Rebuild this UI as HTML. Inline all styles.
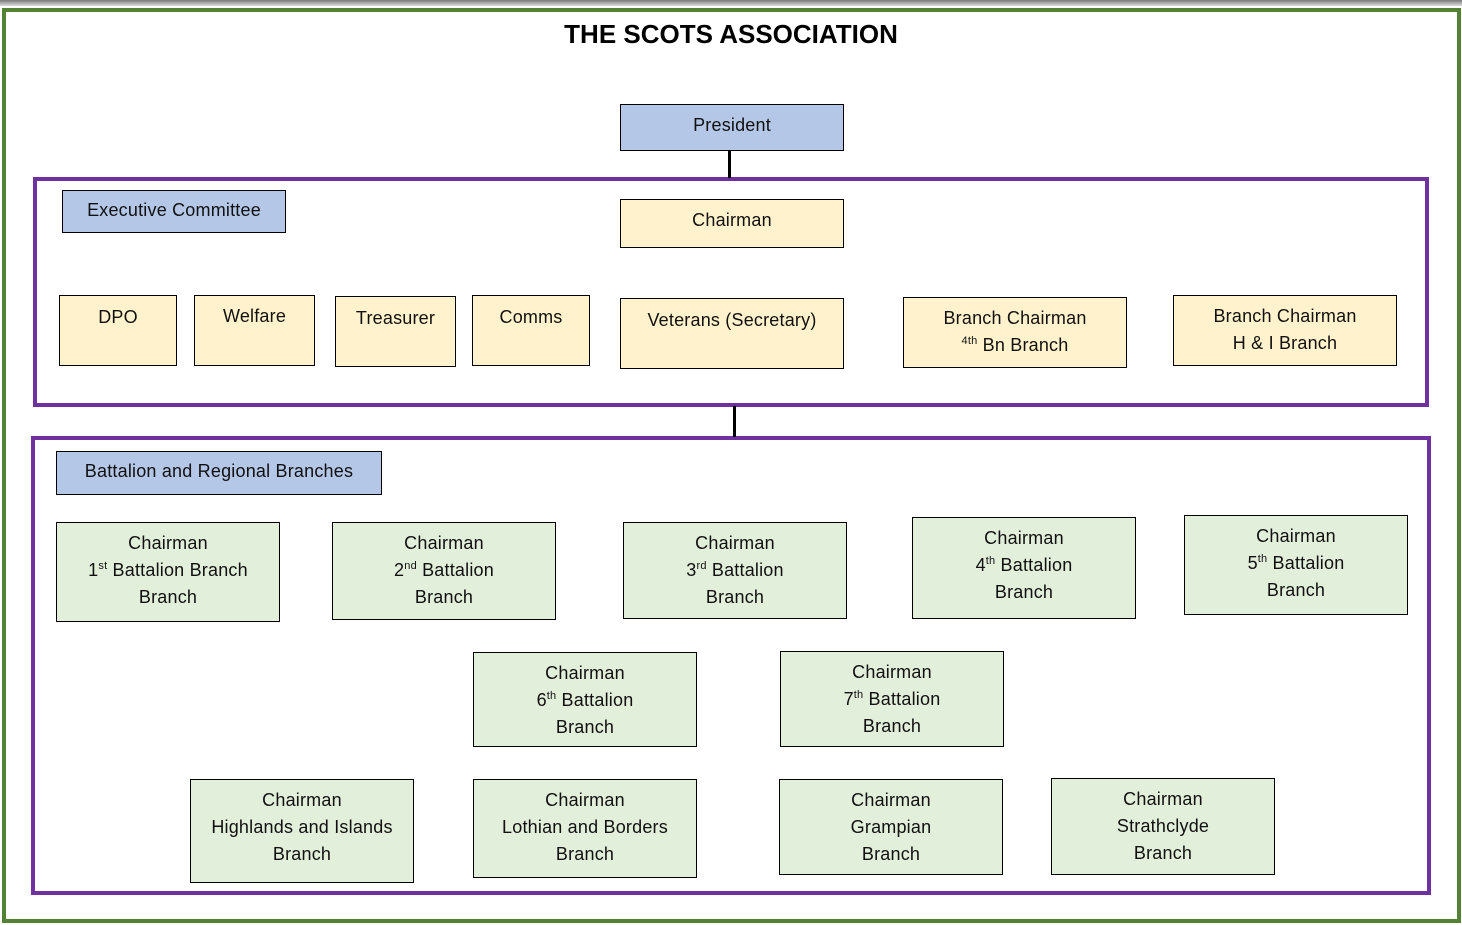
<!DOCTYPE html>
<html><head><style>
body{margin:0;width:1462px;height:925px;position:relative;background:#fff;overflow:hidden;font-family:"Liberation Sans",sans-serif;}
.b{position:absolute;box-sizing:border-box;border:1.3px solid #000;text-align:center;font-size:18px;line-height:27px;padding-top:7px;color:#111;letter-spacing:0.2px}
.y{background:#fff2cc}.g{background:#e2efda}.bl{background:#b4c7e7}
sup{font-size:11px;line-height:0;vertical-align:7px}
.p{position:absolute;box-sizing:border-box;border:4px solid #7030a0}
.l{position:absolute;background:#000;width:3px}
</style></head><body>
<div style="position:absolute;left:0;top:0;width:1462px;height:6px;background:linear-gradient(#777,#ddd)"></div>
<div style="position:absolute;left:2px;top:8px;width:1459px;height:915px;box-sizing:border-box;border:4px solid #548235"></div>
<div style="position:absolute;left:0;width:1462px;top:17px;text-align:center;font-weight:bold;font-size:26px;line-height:34px;padding-right:2px">THE SCOTS ASSOCIATION</div>
<div class="p" style="left:33px;top:177px;width:1396px;height:230px"></div>
<div class="p" style="left:31px;top:436px;width:1400px;height:459px"></div>
<div class="l" style="left:728px;top:150px;height:28px"></div>
<div class="l" style="left:733px;top:406px;height:31px"></div>

<div class="b bl" style="left:620px;top:104px;width:224px;height:47px">President</div>
<div class="b bl" style="left:62px;top:190px;width:224px;height:43px;padding-top:6px">Executive Committee</div>
<div class="b y" style="left:620px;top:199px;width:224px;height:49px">Chairman</div>
<div class="b y" style="left:59px;top:295px;width:118px;height:71px;padding-top:8px">DPO</div>
<div class="b y" style="left:194px;top:295px;width:121px;height:71px;padding-top:7px">Welfare</div>
<div class="b y" style="left:335px;top:296px;width:121px;height:71px;padding-top:8px">Treasurer</div>
<div class="b y" style="left:472px;top:295px;width:118px;height:71px;padding-top:8px">Comms</div>
<div class="b y" style="left:620px;top:298px;width:224px;height:71px;padding-top:8px">Veterans (Secretary)</div>
<div class="b y" style="left:903px;top:297px;width:224px;height:71px;padding-top:7px">Branch Chairman<br><sup>4th</sup> Bn Branch</div>
<div class="b y" style="left:1173px;top:295px;width:224px;height:71px;padding-top:7px">Branch Chairman<br>H &amp; I Branch</div>

<div class="b bl" style="left:56px;top:451px;width:326px;height:44px;padding-top:6px">Battalion and Regional Branches</div>
<div class="b g" style="left:56px;top:522px;width:224px;height:100px">Chairman<br>1<sup>st</sup> Battalion Branch<br>Branch</div>
<div class="b g" style="left:332px;top:522px;width:224px;height:98px">Chairman<br>2<sup>nd</sup> Battalion<br>Branch</div>
<div class="b g" style="left:623px;top:522px;width:224px;height:97px">Chairman<br>3<sup>rd</sup> Battalion<br>Branch</div>
<div class="b g" style="left:912px;top:517px;width:224px;height:102px">Chairman<br>4<sup>th</sup> Battalion<br>Branch</div>
<div class="b g" style="left:1184px;top:515px;width:224px;height:100px">Chairman<br>5<sup>th</sup> Battalion<br>Branch</div>
<div class="b g" style="left:473px;top:652px;width:224px;height:95px">Chairman<br>6<sup>th</sup> Battalion<br>Branch</div>
<div class="b g" style="left:780px;top:651px;width:224px;height:96px">Chairman<br>7<sup>th</sup> Battalion<br>Branch</div>
<div class="b g" style="left:190px;top:779px;width:224px;height:104px">Chairman<br>Highlands and Islands<br>Branch</div>
<div class="b g" style="left:473px;top:779px;width:224px;height:99px">Chairman<br>Lothian and Borders<br>Branch</div>
<div class="b g" style="left:779px;top:779px;width:224px;height:96px">Chairman<br>Grampian<br>Branch</div>
<div class="b g" style="left:1051px;top:778px;width:224px;height:97px">Chairman<br>Strathclyde<br>Branch</div>
</body></html>
